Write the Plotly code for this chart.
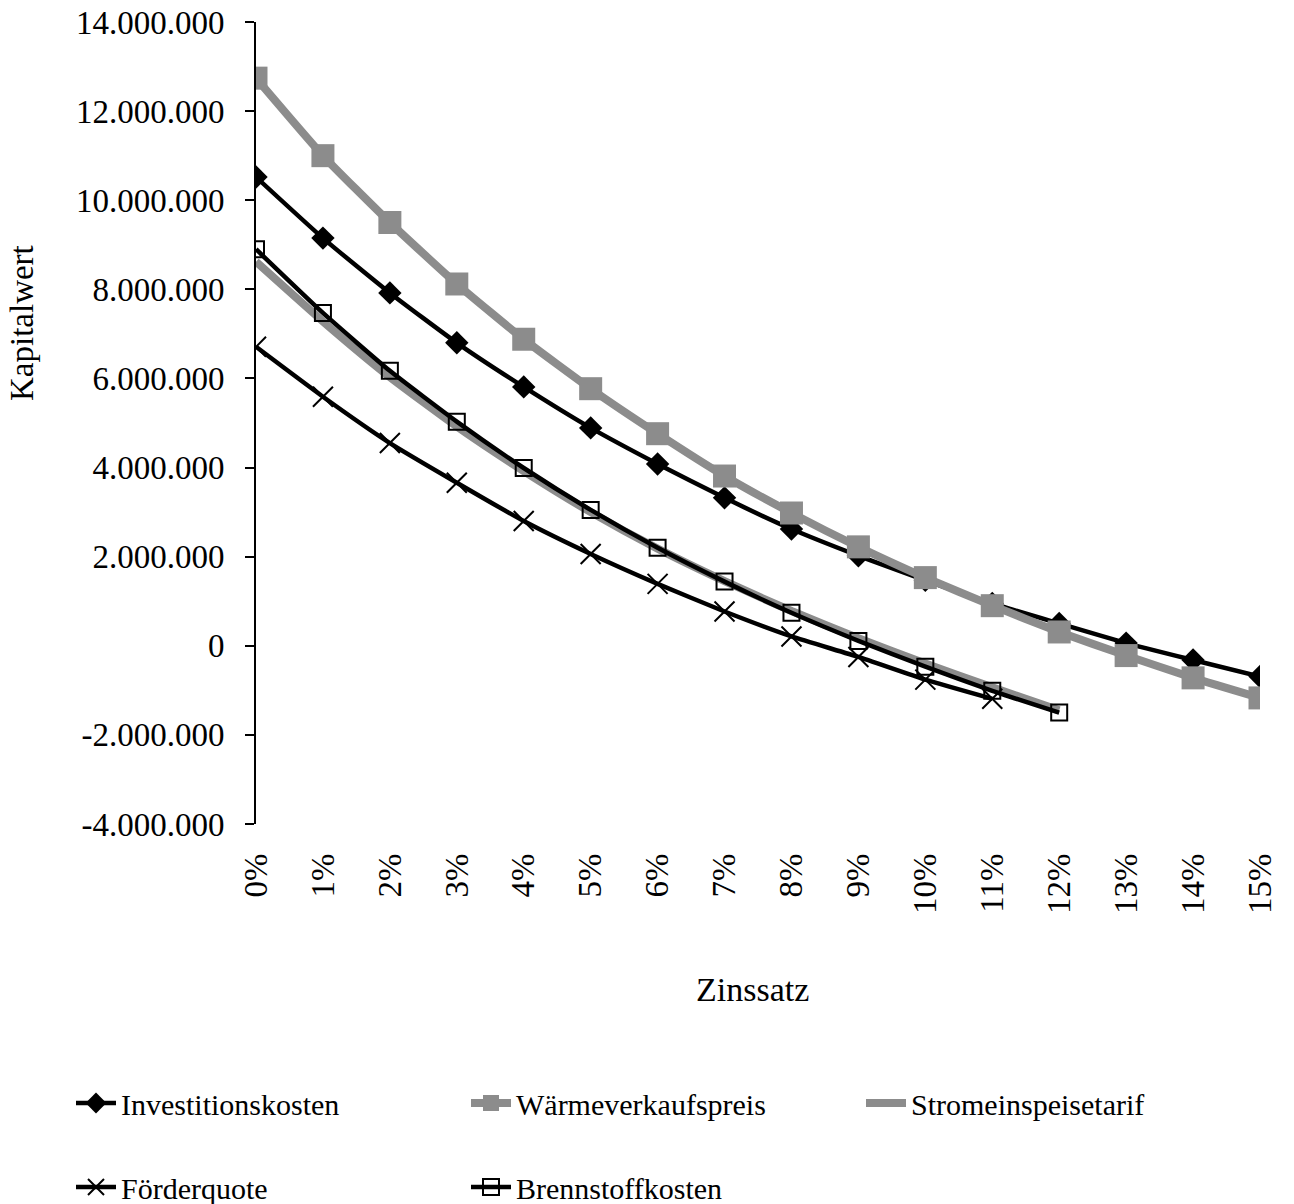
import plotly.graph_objects as go

rates = ["0%", "1%", "2%", "3%", "4%", "5%", "6%", "7%", "8%", "9%", "10%", "11%", "12%", "13%", "14%", "15%"]
x_idx = list(range(len(rates)))

investitionskosten = [10.52e6, 9.15e6, 7.92e6, 6.80e6, 5.81e6, 4.89e6, 4.08e6, 3.32e6, 2.62e6, 2.02e6, 1.47e6, 0.95e6, 0.50e6, 0.06e6, -0.32e6, -0.69e6]
waermeverkaufspreis = [12.74e6, 11.00e6, 9.50e6, 8.12e6, 6.88e6, 5.77e6, 4.76e6, 3.81e6, 2.98e6, 2.22e6, 1.53e6, 0.90e6, 0.31e6, -0.22e6, -0.72e6, -1.17e6]
stromeinspeisetarif = [8.62e6, 7.28e6, 6.03e6, 4.92e6, 3.92e6, 3.00e6, 2.18e6, 1.45e6, 0.78e6, 0.17e6, -0.40e6, -0.93e6, -1.45e6]
foerderquote = [6.71e6, 5.59e6, 4.55e6, 3.66e6, 2.80e6, 2.06e6, 1.39e6, 0.77e6, 0.21e6, -0.25e6, -0.76e6, -1.19e6]
brennstoffkosten = [8.90e6, 7.47e6, 6.17e6, 5.03e6, 3.99e6, 3.05e6, 2.20e6, 1.44e6, 0.74e6, 0.11e6, -0.47e6, -1.01e6, -1.50e6]

y_ticks = [-4e6, -2e6, 0, 2e6, 4e6, 6e6, 8e6, 10e6, 12e6, 14e6]
y_ticktext = ["-4.000.000", "-2.000.000", "0", "2.000.000", "4.000.000", "6.000.000",
              "8.000.000", "10.000.000", "12.000.000", "14.000.000"]
y_range = [-4e6, 14e6]

FONT = "Liberation Serif"
GRAY = "#8c8c8c"
SMOOTH = 0.5
W, H = 1294, 1204
ML, MR, MT, MB = 256, 34, 22, 380
PW, PH = W - ML - MR, H - MT - MB

fig = go.Figure()

fig.add_trace(go.Scatter(
    x=x_idx[:len(investitionskosten)], y=investitionskosten, name="Investitionskosten",
    mode="lines+markers", line=dict(color="black", width=4.5, shape="spline", smoothing=SMOOTH),
    marker=dict(symbol="diamond", size=18, color="black"), legend="legend"))
fig.add_trace(go.Scatter(
    x=x_idx[:len(waermeverkaufspreis)], y=waermeverkaufspreis, name="Wärmeverkaufspreis",
    mode="lines+markers", line=dict(color=GRAY, width=8, shape="spline", smoothing=SMOOTH),
    marker=dict(symbol="square", size=23, color=GRAY), legend="legend"))
fig.add_trace(go.Scatter(
    x=x_idx[:len(stromeinspeisetarif)], y=stromeinspeisetarif, name="Stromeinspeisetarif",
    mode="lines", line=dict(color=GRAY, width=8, shape="spline", smoothing=SMOOTH), legend="legend"))
fig.add_trace(go.Scatter(
    x=x_idx[:len(foerderquote)], y=foerderquote, name="Förderquote",
    mode="lines+markers", line=dict(color="black", width=4.5, shape="spline", smoothing=SMOOTH),
    marker=dict(symbol="x-thin", size=20, color="black", line=dict(color="black", width=2)),
    legend="legend2"))
fig.add_trace(go.Scatter(
    x=x_idx[:len(brennstoffkosten)], y=brennstoffkosten, name="Brennstoffkosten",
    mode="lines+markers", line=dict(color="black", width=4.5, shape="spline", smoothing=SMOOTH),
    marker=dict(symbol="square-open", size=16, color="black", line=dict(color="black", width=2)),
    legend="legend2"))

zero_pos = (0 - y_range[0]) / (y_range[1] - y_range[0])

legend_common = dict(orientation="h", x=(71 - ML) / PW, xanchor="left", yanchor="middle",
                     entrywidth=340, entrywidthmode="pixels", font=dict(size=30),
                     bgcolor="rgba(0,0,0,0)", traceorder="normal", itemwidth=40)

fig.update_layout(
    width=W, height=H,
    margin=dict(l=ML, r=MR, t=MT, b=MB, autoexpand=False),
    paper_bgcolor="white", plot_bgcolor="white",
    font=dict(family=FONT, size=33, color="black"),
    xaxis=dict(range=[0, len(rates) - 1], tickvals=x_idx, ticktext=rates, tickangle=-90,
               showline=False, showgrid=False, zeroline=False, ticks="",
               ticklabelstandoff=22, tickfont=dict(size=33), automargin=False),
    xaxis2=dict(overlaying="x", matches="x", anchor="free", position=zero_pos,
                tickvals=x_idx, showticklabels=False, ticks="outside", ticklen=9,
                tickwidth=2, tickcolor="black", showline=True, linecolor="black",
                linewidth=2, showgrid=False, zeroline=False),
    yaxis=dict(range=y_range, tickvals=y_ticks, ticktext=y_ticktext, showgrid=False,
               zeroline=False, showline=True, linecolor="black", linewidth=2,
               ticks="outside", ticklen=9, tickwidth=2, tickcolor="black",
               ticklabelstandoff=14, tickfont=dict(size=33), automargin=False),
    showlegend=True,
    legend=dict(legend_common, y=(MT + PH - 1103) / PH),
    legend2=dict(legend_common, y=(MT + PH - 1187) / PH),
    annotations=[
        dict(text="Kapitalwert", xref="paper", yref="paper",
             x=(22 - ML) / PW, y=(MT + PH - 323) / PH, showarrow=False,
             textangle=-90, font=dict(size=33), xanchor="center", yanchor="middle"),
        dict(text="Zinssatz", xref="paper", yref="paper",
             x=(752 - ML) / PW, y=(MT + PH - 990) / PH, showarrow=False,
             font=dict(size=34), yanchor="middle", xanchor="center"),
    ],
)

fig.write_html("out.html")
